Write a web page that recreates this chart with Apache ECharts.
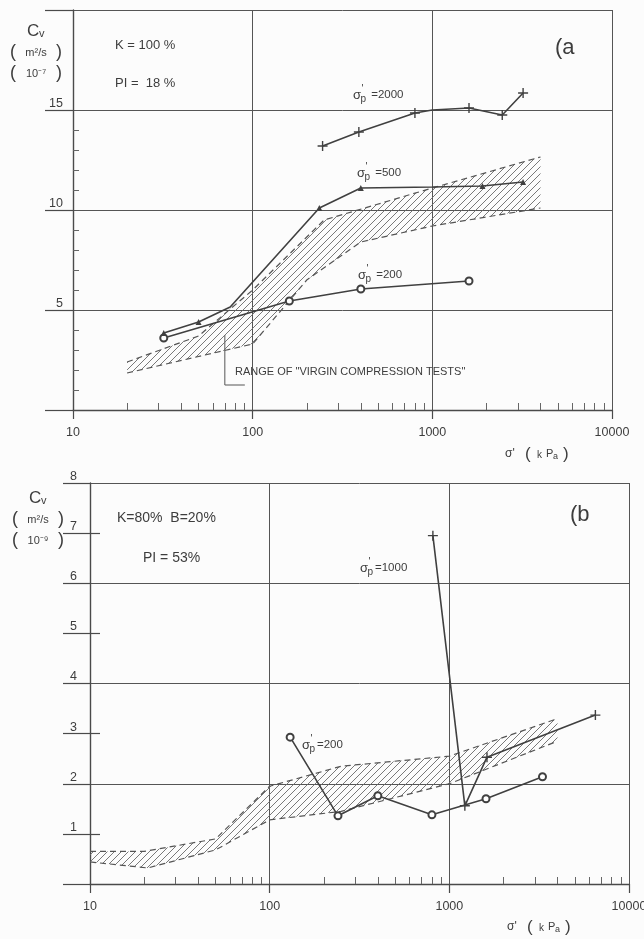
<!DOCTYPE html>
<html>
<head>
<meta charset="utf-8">
<script src="https://cdn.jsdelivr.net/npm/echarts@6/dist/echarts.min.js"></script>
<style>
  html, body { margin: 0; padding: 0; background: #fcfcfc; }
  #chart { width: 644px; height: 939px; }
</style>
</head>
<body>
<div id="chart"></div>
<script>
// ---------- Panel (a): K = 100 %, PI = 18 %, Cv in 1e-7 m2/s ----------
const pa200 = [[32, 3.6], [160, 5.45], [400, 6.05], [1600, 6.45]];
const pa500 = [[32, 3.85], [50, 4.4], [75, 5.15], [235, 10.1], [400, 11.1], [1000, 11.15], [1900, 11.2], [3200, 11.4]];
const pa500Bends = [2, 5];            // vertices of the 500 curve drawn without a marker
const pa2000 = [[245, 13.2], [390, 13.9], [800, 14.85], [1000, 15.0], [1600, 15.1], [2450, 14.75], [3200, 15.85]];
const pa2000Bends = [3];
const paBandUpper = [[20, 2.4], [50, 3.7], [100, 6.0], [250, 9.5], [1000, 11.1], [4000, 12.65]];
const paBandLower = [[20, 1.85], [100, 3.3], [200, 6.5], [400, 8.4], [1000, 9.2], [4000, 10.1]];

// ---------- Panel (b): K = 80 %, B = 20 %, PI = 53 %, Cv in 1e-9 m2/s ----------
const pb200 = [[130, 2.93], [240, 1.36], [400, 1.76], [800, 1.38], [1600, 1.7], [3300, 2.14]];
const pb1000 = [[810, 6.95], [1220, 1.56], [1620, 2.53], [6500, 3.37]];
const pbBandUpper = [[10, 0.65], [20, 0.65], [50, 0.9], [100, 1.95], [250, 2.35], [1000, 2.55], [4000, 3.3]];
const pbBandLower = [[10, 0.44], [21, 0.32], [50, 0.68], [100, 1.28], [250, 1.45], [1000, 2.0], [4000, 2.85]];

// axis ticks
const xMinor = [20, 30, 40, 50, 60, 70, 80, 90, 200, 300, 400, 500, 600, 700, 800, 900,
                2000, 3000, 4000, 5000, 6000, 7000, 8000, 9000];
const yaMinor = [1, 2, 3, 4, 6, 7, 8, 9, 11, 12, 13, 14];
const yaLabels = [5, 10, 15];
const ybInner = [1, 3, 5, 7];

const INK = '#3d3d3d';
const LINE = '#4a4a4a';
const FONT = '"Liberation Sans", Arial, sans-serif';

// diagonal "////" fill for the range of virgin compression tests
function hatchCanvas() {
  const s = 7;
  const c = document.createElement('canvas');
  c.width = s; c.height = s;
  const g = c.getContext('2d');
  g.strokeStyle = '#6a6a6a';
  g.lineWidth = 0.9;
  g.beginPath();
  g.moveTo(0, s); g.lineTo(s, 0);
  g.moveTo(-1, 1); g.lineTo(1, -1);
  g.moveTo(s - 1, s + 1); g.lineTo(s + 1, s - 1);
  g.stroke();
  return c;
}
const HATCH = hatchCanvas();

const PLUS = 'path://M4.3,0h1.4v10h-1.4z M0,4.3h10v1.4h-10z';

function xAxes(grid) {
  return [
    {
      gridIndex: grid, type: 'log', logBase: 10, min: 10, max: 10000, position: 'bottom',
      axisLine: { lineStyle: { color: LINE, width: 1.4 } },
      axisTick: { length: 9, lineStyle: { color: LINE, width: 1.2 } },
      axisLabel: { margin: 16, color: INK, fontSize: 12.5, fontFamily: FONT, formatter: v => String(v) },
      splitLine: { show: true, lineStyle: { color: '#555', width: 1 } }
    },
    {
      gridIndex: grid, type: 'log', logBase: 10, min: 10, max: 10000, position: 'bottom',
      axisLine: { show: false },
      axisTick: { inside: true, length: 7, customValues: xMinor, lineStyle: { color: '#666', width: 1 } },
      axisLabel: { show: false },
      splitLine: { show: false }
    }
  ];
}

function bandSeries(xi, yi, upper, lower) {
  return [
    {
      type: 'custom', xAxisIndex: xi, yAxisIndex: yi, silent: true, z: 1,
      data: [[100, 1]],
      renderItem: function (params, api) {
        const pts = upper.map(d => api.coord(d))
          .concat(lower.slice().reverse().map(d => api.coord(d)));
        return {
          type: 'polygon',
          shape: { points: pts },
          style: { fill: { image: HATCH, repeat: 'repeat' }, stroke: null }
        };
      }
    },
    {
      type: 'line', xAxisIndex: xi, yAxisIndex: yi, data: upper, symbol: 'none', silent: true, z: 2,
      lineStyle: { color: '#555', width: 1.2, type: [6, 4] }
    },
    {
      type: 'line', xAxisIndex: xi, yAxisIndex: yi, data: lower, symbol: 'none', silent: true, z: 2,
      lineStyle: { color: '#555', width: 1.2, type: [6, 4] }
    }
  ];
}

function curve(xi, yi, data, symbol, size, bends) {
  const skip = bends || [];
  return {
    type: 'line', xAxisIndex: xi, yAxisIndex: yi, data: data, z: 5,
    symbol: symbol,
    symbolSize: (v, p) => (skip.indexOf(p.dataIndex) >= 0 ? 0 : size),
    showAllSymbol: true,
    lineStyle: { color: '#404040', width: 1.6 },
    itemStyle: { color: '#404040', borderColor: '#404040', borderWidth: symbol === 'emptyCircle' ? 1.8 : 0 }
  };
}

// sigma'_p label built from small text pieces
function sigmaLabel(x, y, t) {
  return {
    type: 'group', x: x, y: y,
    children: [
      { type: 'text', x: 0, y: 0, style: { text: 'σ', fontSize: 13, fontFamily: FONT, fill: INK, textVerticalAlign: 'middle' } },
      { type: 'text', x: 8.5, y: -6, style: { text: '\'', fontSize: 10, fontFamily: FONT, fill: INK, textVerticalAlign: 'middle' } },
      { type: 'text', x: 7.5, y: 4, style: { text: 'p', fontSize: 10, fontFamily: FONT, fill: INK, textVerticalAlign: 'middle' } },
      { type: 'text', x: 15, y: 0, style: { text: t, fontSize: 11.5, fontFamily: FONT, fill: INK, textVerticalAlign: 'middle' } }
    ]
  };
}

function cvLabel(cx, y, exp) {
  const paren = (x, yy, s) => ({ type: 'text', x: x, y: yy, style: { text: s, fontSize: 18, fontFamily: FONT, fill: INK, textAlign: 'center', textVerticalAlign: 'middle' } });
  return {
    type: 'group', x: cx, y: y,
    children: [
      { type: 'text', x: -9, y: 0, style: { text: 'C', fontSize: 17, fontFamily: FONT, fill: INK, textVerticalAlign: 'middle' } },
      { type: 'text', x: 3, y: 3, style: { text: 'v', fontSize: 11, fontFamily: FONT, fill: INK, textVerticalAlign: 'middle' } },
      { type: 'text', x: 0, y: 22, style: { text: 'm²/s', fontSize: 11, fontFamily: FONT, fill: INK, textAlign: 'center', textVerticalAlign: 'middle' } },
      paren(-23, 21, '('), paren(23, 21, ')'),
      { type: 'text', x: 0, y: 43, style: { text: '10⁻' + exp, fontSize: 11, fontFamily: FONT, fill: INK, textAlign: 'center', textVerticalAlign: 'middle' } },
      paren(-23, 42, '('), paren(23, 42, ')')
    ]
  };
}

function txt(x, y, s, size, align) {
  return { type: 'text', x: x, y: y, style: { text: s, fontSize: size, fontFamily: FONT, fill: INK, textAlign: align || 'left', textVerticalAlign: 'middle' } };
}

function xTitle(x, y) {
  return {
    type: 'group', x: x, y: y,
    children: [
      { type: 'text', x: 0, y: 0, style: { text: 'σ\'', fontSize: 12, fontFamily: FONT, fill: INK, textVerticalAlign: 'middle' } },
      { type: 'text', x: 20, y: 0, style: { text: '(', fontSize: 17, fontFamily: FONT, fill: INK, textVerticalAlign: 'middle' } },
      { type: 'text', x: 32, y: 1, style: { text: 'k', fontSize: 10, fontFamily: FONT, fill: INK, textVerticalAlign: 'middle' } },
      { type: 'text', x: 41, y: 0, style: { text: 'P', fontSize: 11, fontFamily: FONT, fill: INK, textVerticalAlign: 'middle' } },
      { type: 'text', x: 48, y: 3, style: { text: 'a', fontSize: 9, fontFamily: FONT, fill: INK, textVerticalAlign: 'middle' } },
      { type: 'text', x: 58, y: 0, style: { text: ')', fontSize: 17, fontFamily: FONT, fill: INK, textVerticalAlign: 'middle' } }
    ]
  };
}

const chart = echarts.init(document.getElementById('chart'), null, { renderer: 'canvas' });

const option = {
  backgroundColor: '#fcfcfc',
  animation: false,
  grid: [
    { left: 73, top: 10, width: 539, height: 400, outerBoundsMode: 'none', containLabel: false },
    { left: 90, top: 483, width: 539, height: 401, outerBoundsMode: 'none', containLabel: false }
  ],
  xAxis: [].concat(xAxes(0), xAxes(1)),
  yAxis: [
    // panel (a)
    {
      gridIndex: 0, type: 'value', min: 0, max: 20, interval: 5, position: 'left',
      axisLine: { show: true, lineStyle: { color: LINE, width: 1.4 } },
      axisTick: { length: 28, lineStyle: { color: LINE, width: 1.2 } },
      axisLabel: {
        margin: 10, color: INK, fontSize: 12.5, fontFamily: FONT, verticalAlign: 'bottom',
        formatter: v => (yaLabels.indexOf(v) >= 0 ? String(v) : '')
      },
      splitLine: { show: true, lineStyle: { color: '#555', width: 1 } }
    },
    {
      gridIndex: 0, type: 'value', min: 0, max: 20, position: 'left', offset: 0,
      axisLine: { show: false },
      axisTick: { inside: true, length: 6, customValues: yaMinor, lineStyle: { color: '#666' } },
      axisLabel: { show: false }, splitLine: { show: false }
    },
    // panel (b)
    {
      gridIndex: 1, type: 'value', min: 0, max: 8, interval: 2, position: 'left',
      axisLine: { show: true, lineStyle: { color: LINE, width: 1.4 } },
      axisTick: { show: false }, axisLabel: { show: false },
      splitLine: { show: true, lineStyle: { color: '#555', width: 1 } }
    },
    {
      gridIndex: 1, type: 'value', min: 0, max: 8, interval: 1, position: 'left', offset: 0,
      axisLine: { show: false },
      axisTick: { length: 27, lineStyle: { color: LINE, width: 1.2 } },
      axisLabel: {
        margin: 13, color: INK, fontSize: 12.5, fontFamily: FONT, verticalAlign: 'bottom',
        formatter: v => (v > 0 ? String(v) : '')
      },
      splitLine: { show: false }
    },
    {
      gridIndex: 1, type: 'value', min: 0, max: 8, position: 'left', offset: 0,
      axisLine: { show: false },
      axisTick: { inside: true, length: 10, customValues: ybInner, lineStyle: { color: LINE, width: 1.2 } },
      axisLabel: { show: false }, splitLine: { show: false }
    }
  ],
  series: [].concat(
    bandSeries(0, 0, paBandUpper, paBandLower),
    [
      curve(0, 0, pa200, 'emptyCircle', 7),
      curve(0, 0, pa500, 'triangle', 6, pa500Bends),
      curve(0, 0, pa2000, PLUS, 10, pa2000Bends)
    ],
    bandSeries(2, 2, pbBandUpper, pbBandLower),
    [
      curve(2, 2, pb200, 'emptyCircle', 7),
      curve(2, 2, pb1000, PLUS, 10)
    ]
  ),
  graphic: [
    cvLabel(36, 31, '⁷'),
    txt(115, 45, 'K = 100 %', 13),
    txt(115, 83, 'PI =  18 %', 13),
    txt(555, 48, '(a', 22),
    sigmaLabel(353, 95, ' =2000'),
    sigmaLabel(357, 173, ' =500'),
    sigmaLabel(358, 275, ' =200'),
    txt(235, 372, 'RANGE OF "VIRGIN COMPRESSION TESTS"', 11),
    xTitle(505, 454),

    cvLabel(38, 498, '⁹'),
    txt(117, 518, 'K=80%  B=20%', 14),
    txt(143, 558, 'PI = 53%', 14),
    txt(570, 515, '(b', 22),
    sigmaLabel(360, 568, '=1000'),
    sigmaLabel(302, 745, '=200'),
    xTitle(507, 927)
  ]
};

chart.setOption(option);

// leader from the range label to the hatched band
const tip = chart.convertToPixel({ xAxisIndex: 0, yAxisIndex: 0 }, [70, 3.75]);
chart.setOption({
  graphic: option.graphic.concat([{
    type: 'polyline', silent: true,
    shape: { points: [[tip[0], tip[1]], [tip[0], 385], [tip[0] + 20, 385]] },
    style: { stroke: '#555', lineWidth: 1, fill: null }
  }])
});
</script>
</body>
</html>
